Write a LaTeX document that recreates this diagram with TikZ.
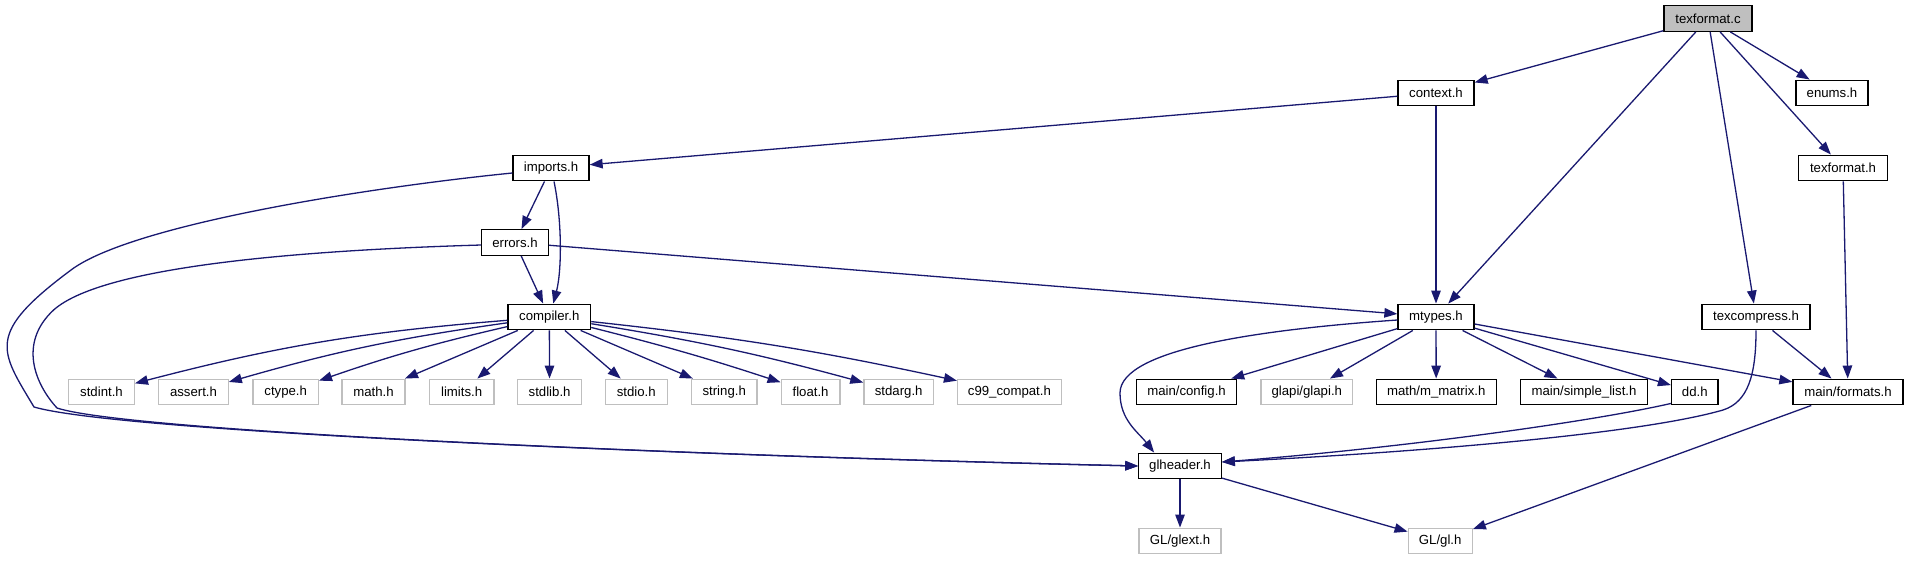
\documentclass[tikz,border=0pt]{standalone}
\usepackage{fontspec}
\setmainfont{Liberation Sans}
\usetikzlibrary{arrows.meta,calc}
\definecolor{edgeblue}{HTML}{191970}
\definecolor{extgray}{HTML}{BFBFBF}
\begin{document}
\begin{tikzpicture}[x=1pt,y=-1pt,
  hdr/.style={draw=black, line width=1.3pt, minimum height=25.6pt, inner sep=0pt,
    font=\fontsize{13.2}{15}\selectfont, fill=white},
  ext/.style={hdr, draw=extgray},
  cur/.style={hdr, fill=extgray},
  dep/.style={draw=edgeblue, line width=1.3pt, edgeblue,
    -{Triangle[length=13pt,width=9.5pt]}}]
\useasboundingbox (0,0) rectangle (1908,560);
% nodes
\node[cur, minimum width=88pt]  (texc)    at (1708,18.5) {texformat.c};
\node[hdr, minimum width=76pt]  (context) at (1436,93) {context.h};
\node[hdr, minimum width=72pt]  (enums)   at (1832,93) {enums.h};
\node[hdr, minimum width=76pt]  (imports) at (551,168) {imports.h};
\node[hdr, minimum width=88.5pt](texh)    at (1843,168) {texformat.h};
\node[hdr, minimum width=66.5pt](errors)  at (515,242.5) {errors.h};
\node[hdr, minimum width=82.6pt](compiler) at (549.3,317) {compiler.h};
\node[hdr, minimum width=76pt]  (mtypes)  at (1436,317) {mtypes.h};
\node[hdr, minimum width=108pt] (texcomp) at (1756,317) {texcompress.h};
\node[ext, minimum width=65.7pt](stdint)  at (101.5,392) {stdint.h};
\node[ext, minimum width=69.4pt](assert)  at (193.5,392) {assert.h};
\node[ext, minimum width=65.4pt](ctype)   at (285.7,392) {ctype.h};
\node[ext, minimum width=63pt]  (math)    at (373.5,392) {math.h};
\node[ext, minimum width=64.5pt](limits)  at (461.6,392) {limits.h};
\node[ext, minimum width=64pt]  (stdlib)  at (549.6,392) {stdlib.h};
\node[ext, minimum width=62pt]  (stdio)   at (636.3,392) {stdio.h};
\node[ext, minimum width=65.6pt](string)  at (724.2,392) {string.h};
\node[ext, minimum width=58.8pt](float)   at (810.6,392) {float.h};
\node[ext, minimum width=69.5pt](stdarg)  at (898.7,392) {stdarg.h};
\node[ext, minimum width=103.6pt](c99)    at (1009.4,392) {c99\_compat.h};
\node[hdr, minimum width=100.4pt](config) at (1186.5,392) {main/config.h};
\node[ext, minimum width=91.6pt](glapi)   at (1306.8,392) {glapi/glapi.h};
\node[hdr, minimum width=120pt] (mmatrix) at (1436.2,392) {math/m\_matrix.h};
\node[hdr, minimum width=127pt] (slist)   at (1584,392) {main/simple\_list.h};
\node[hdr, minimum width=46.5pt](dd)      at (1694.8,392) {dd.h};
\node[hdr, minimum width=110pt] (formats) at (1848,392) {main/formats.h};
\node[hdr, minimum width=82.4pt](glheader) at (1180,466) {glheader.h};
\node[ext, minimum width=82pt]  (glext)   at (1180,541) {GL/glext.h};
\node[ext, minimum width=64pt]  (gl)      at (1440.2,541) {GL/gl.h};
% edges from texformat.c
\draw[dep] (texc) -- (context);
\draw[dep] (texc) -- (mtypes);
\draw[dep] (texc) -- (texcomp);
\draw[dep] (texc) -- (texh);
\draw[dep] (texc) -- (enums);
% context.h
\draw[dep] (context) -- (imports);
\draw[dep] (context) -- (mtypes);
% imports.h
\draw[dep] (imports) -- (errors);
\draw[dep] ($(imports.south)+(3,0)$) .. controls (562,220) and (562,270) .. ($(compiler.north)+(4,0)$);
\draw[dep] ($(imports.west)+(0,5)$) .. controls (363,188) and (131,225) .. (71,270)
  .. controls (-15,334) and (0,350) .. (34,407)
  .. controls (120,432) and (700,456) .. (glheader.west);
% errors.h
\draw[dep] (errors) -- (compiler);
\draw[dep] (errors) -- (mtypes);
\draw[dep] ($(errors.west)+(0,2.5)$) .. controls (311,250) and (104,265) .. (53.6,310)
  .. controls (18,343) and (35,384) .. (57,408)
  .. controls (130,432) and (700,456) .. (glheader.west);
% compiler.h fan
\draw[dep] (compiler) to[bend right=5] (stdint);
\draw[dep] (compiler) to[bend right=4] (assert);
\draw[dep] (compiler) to[bend right=3] (ctype);
\draw[dep] (compiler) -- (math);
\draw[dep] (compiler) -- (limits);
\draw[dep] (compiler) -- (stdlib);
\draw[dep] (compiler) -- (stdio);
\draw[dep] (compiler) -- (string);
\draw[dep] (compiler) to[bend left=2] (float);
\draw[dep] (compiler) to[bend left=3] (stdarg);
\draw[dep] (compiler) to[bend left=3] (c99);
% mtypes.h fan
\draw[dep] ($(mtypes.west)+(0,3)$) .. controls (1268,329) and (1120,348) .. (1120,393)
  .. controls (1120,420) and (1138,432) .. ($(glheader.north west)+(16,0)$);
\draw[dep] (mtypes) -- (config);
\draw[dep] (mtypes) -- (glapi);
\draw[dep] (mtypes) -- (mmatrix);
\draw[dep] (mtypes) -- (slist);
\draw[dep] (mtypes) -- (dd);
\draw[dep] (mtypes) -- (formats);
% texformat.h, texcompress.h
\draw[dep] (texh) -- (formats);
\draw[dep] (texcomp) -- (formats);
\draw[dep] (texcomp.south) .. controls (1756,375) and (1748,402) .. (1723,410)
  .. controls (1640,434) and (1420,452) .. ($(glheader.east)+(0,-4)$);
% dd.h
\draw[dep] ($(dd.south west)+(0,-2)$) .. controls (1590,422) and (1400,448) .. ($(glheader.east)+(0,-4)$);
% formats, glheader
\draw[dep] (formats) -- (gl);
\draw[dep] (glheader) -- (glext);
\draw[dep] (glheader) -- (gl);
\end{tikzpicture}
\end{document}
